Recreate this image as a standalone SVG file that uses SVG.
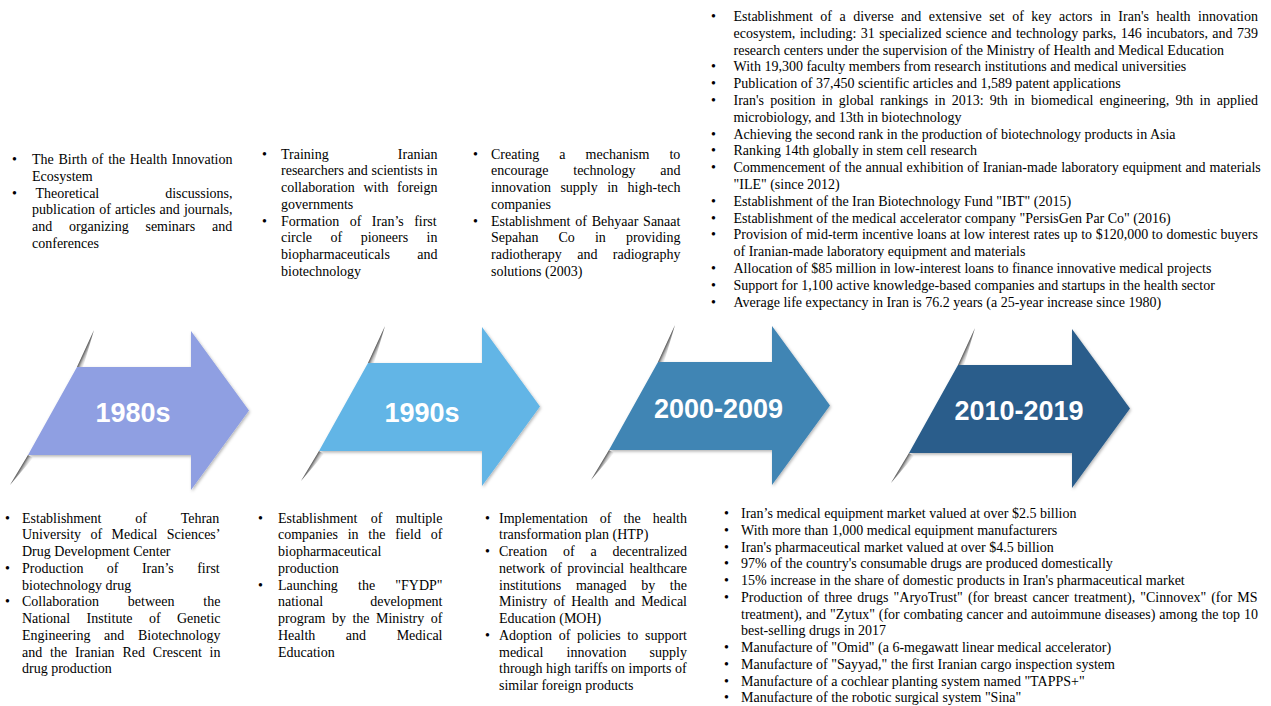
<svg xmlns="http://www.w3.org/2000/svg" width="1271" height="706" viewBox="0 0 1271 706">
<defs>
<style>
.t{font-family:"Liberation Serif","Times New Roman",serif;font-size:14px;fill:#000}
.e{text-anchor:end}
.lbl{font-family:"Liberation Sans",Arial,sans-serif;font-weight:bold;font-size:27px;fill:#fff;text-anchor:middle}
.streak{fill:url(#streakGrad)}
</style>
<linearGradient id="streakGrad" x1="0" y1="0" x2="1" y2="0">
<stop offset="0" stop-color="#333" stop-opacity="0.85"/>
<stop offset="0.5" stop-color="#777" stop-opacity="0.4"/>
<stop offset="1" stop-color="#aaa" stop-opacity="0"/>
</linearGradient>
<filter id="sh" x="-10%" y="-10%" width="130%" height="130%">
<feDropShadow dx="1" dy="1.5" stdDeviation="1.5" flood-color="#000" flood-opacity="0.3"/>
</filter>
<path id="arrowShape" d="M0,0 H114 V-36 L172,43.5 L114,123 V88 H-49 Z"/>
</defs>
<rect width="1271" height="706" fill="#fff"/>

<g id="arrow-1980s" transform="translate(77,367)">
<polygon class="streak" points="0,0 0,40.7 6,40.7" transform="translate(17,-37) rotate(24.7)"/>
<polygon class="streak" points="0,0 6,0 0,35" transform="translate(-49,88) rotate(31)"/>
<use href="#arrowShape" fill="#8f9fe2" filter="url(#sh)"/>
</g>
<g id="arrow-1990s" transform="translate(368,363)">
<polygon class="streak" points="0,0 0,40.7 6,40.7" transform="translate(17,-37) rotate(24.7)"/>
<polygon class="streak" points="0,0 6,0 0,35" transform="translate(-49,88) rotate(31)"/>
<use href="#arrowShape" fill="#62b5e6" filter="url(#sh)"/>
</g>
<g id="arrow-2000-2009" transform="translate(658,362)">
<polygon class="streak" points="0,0 0,40.7 6,40.7" transform="translate(17,-37) rotate(24.7)"/>
<polygon class="streak" points="0,0 6,0 0,35" transform="translate(-49,88) rotate(31)"/>
<use href="#arrowShape" fill="#4185b4" filter="url(#sh)"/>
</g>
<g id="arrow-2010-2019" transform="translate(958,365)">
<polygon class="streak" points="0,0 0,40.7 6,40.7" transform="translate(17,-37) rotate(24.7)"/>
<polygon class="streak" points="0,0 6,0 0,35" transform="translate(-49,88) rotate(31)"/>
<use href="#arrowShape" fill="#2a5d8b" filter="url(#sh)"/>
</g>
<g id="labels">
<text class="lbl" x="133" y="421.5">1980s</text>
<text class="lbl" x="422" y="421.5">1990s</text>
<text class="lbl" x="718.5" y="417.5">2000-2009</text>
<text class="lbl" x="1019" y="419.5">2010-2019</text>
</g>

<g id="top-1980s">
<text class="t" x="12" y="164">•</text>
<text class="t" x="32" y="164" style="word-spacing:1.14px">The Birth of the Health Innovation</text>
<text class="t" x="32" y="180.75">Ecosystem</text>
<text class="t" x="12" y="197.5">•</text>
<text class="t" x="35.5" y="197.5">Theoretical</text>
<text class="t e" x="232.5" y="197.5">discussions,</text>
<text class="t" x="32" y="214.25" style="word-spacing:0.65px">publication of articles and journals,</text>
<text class="t" x="32" y="231" style="word-spacing:13.3px">and organizing seminars and</text>
<text class="t" x="32" y="247.75">conferences</text>
</g>

<g id="top-1990s">
<text class="t" x="262" y="158.5">•</text>
<text class="t" x="281" y="158.5">Training</text>
<text class="t e" x="437.5" y="158.5">Iranian</text>
<text class="t" x="281" y="175.25" style="word-spacing:0.2px">researchers and scientists in</text>
<text class="t" x="281" y="192" style="word-spacing:5.15px">collaboration with foreign</text>
<text class="t" x="281" y="208.75">governments</text>
<text class="t" x="262" y="225.5">•</text>
<text class="t" x="281" y="225.5" style="word-spacing:6.93px">Formation of Iran’s first</text>
<text class="t" x="281" y="242.25" style="word-spacing:14.97px">circle of pioneers in</text>
<text class="t" x="281" y="259">biopharmaceuticals</text>
<text class="t e" x="437.5" y="259">and</text>
<text class="t" x="281" y="275.75">biotechnology</text>
</g>

<g id="top-2000-2009">
<text class="t" x="473" y="158.5">•</text>
<text class="t" x="491" y="158.5" style="word-spacing:16.6px">Creating a mechanism to</text>
<text class="t" x="491" y="175.25" style="word-spacing:21.25px">encourage technology and</text>
<text class="t" x="491" y="192" style="word-spacing:6px">innovation supply in high-tech</text>
<text class="t" x="491" y="208.75">companies</text>
<text class="t" x="473" y="225.5">•</text>
<text class="t" x="491" y="225.5" style="word-spacing:1.33px">Establishment of Behyaar Sanaat</text>
<text class="t" x="491" y="242.25" style="word-spacing:16.6px">Sepahan Co in providing</text>
<text class="t" x="491" y="259" style="word-spacing:11.95px">radiotherapy and radiography</text>
<text class="t" x="491" y="275.75">solutions (2003)</text>
</g>

<g id="top-2010-2019">
<text class="t" x="711" y="21">•</text>
<text class="t" x="733.5" y="21" style="word-spacing:3.99px">Establishment of a diverse and extensive set of key actors in Iran's health innovation</text>
<text class="t" x="733.5" y="37.8" style="word-spacing:0.88px">ecosystem, including: 31 specialized science and technology parks, 146 incubators, and 739</text>
<text class="t" x="733.5" y="54.6">research centers under the supervision of the Ministry of Health and Medical Education</text>
<text class="t" x="711" y="71.4">•</text>
<text class="t" x="733.5" y="71.4">With 19,300 faculty members from research institutions and medical universities</text>
<text class="t" x="711" y="88.2">•</text>
<text class="t" x="733.5" y="88.2">Publication of 37,450 scientific articles and 1,589 patent applications</text>
<text class="t" x="711" y="105">•</text>
<text class="t" x="733.5" y="105" style="word-spacing:2.76px">Iran's position in global rankings in 2013: 9th in biomedical engineering, 9th in applied</text>
<text class="t" x="733.5" y="121.8">microbiology, and 13th in biotechnology</text>
<text class="t" x="711" y="138.6">•</text>
<text class="t" x="733.5" y="138.6">Achieving the second rank in the production of biotechnology products in Asia</text>
<text class="t" x="711" y="155.4">•</text>
<text class="t" x="733.5" y="155.4">Ranking 14th globally in stem cell research</text>
<text class="t" x="711" y="172.2">•</text>
<text class="t" x="733.5" y="172.2" style="word-spacing:0.32px">Commencement of the annual exhibition of Iranian-made laboratory equipment and materials</text>
<text class="t" x="733.5" y="189">"ILE" (since 2012)</text>
<text class="t" x="711" y="205.8">•</text>
<text class="t" x="733.5" y="205.8">Establishment of the Iran Biotechnology Fund "IBT" (2015)</text>
<text class="t" x="711" y="222.6">•</text>
<text class="t" x="733.5" y="222.6">Establishment of the medical accelerator company "PersisGen Par Co" (2016)</text>
<text class="t" x="711" y="239.4">•</text>
<text class="t" x="733.5" y="239.4" style="word-spacing:0.16px">Provision of mid-term incentive loans at low interest rates up to $120,000 to domestic buyers</text>
<text class="t" x="733.5" y="256.2">of Iranian-made laboratory equipment and materials</text>
<text class="t" x="711" y="273">•</text>
<text class="t" x="733.5" y="273">Allocation of $85 million in low-interest loans to finance innovative medical projects</text>
<text class="t" x="711" y="289.8">•</text>
<text class="t" x="733.5" y="289.8">Support for 1,100 active knowledge-based companies and startups in the health sector</text>
<text class="t" x="711" y="306.6">•</text>
<text class="t" x="733.5" y="306.6">Average life expectancy in Iran is 76.2 years (a 25-year increase since 1980)</text>
</g>

<g id="bottom-1980s">
<text class="t" x="5" y="522.5">•</text>
<text class="t" x="22" y="522.5" style="word-spacing:30.45px">Establishment of Tehran</text>
<text class="t" x="22" y="539.25" style="word-spacing:5.9px">University of Medical Sciences’</text>
<text class="t" x="22" y="556">Drug Development Center</text>
<text class="t" x="5" y="572.75">•</text>
<text class="t" x="22" y="572.75" style="word-spacing:19.9px">Production of Iran’s first</text>
<text class="t" x="22" y="589.5">biotechnology drug</text>
<text class="t" x="5" y="606.25">•</text>
<text class="t" x="22" y="606.25" style="word-spacing:25.35px">Collaboration between the</text>
<text class="t" x="22" y="623" style="word-spacing:12.9px">National Institute of Genetic</text>
<text class="t" x="22" y="639.75" style="word-spacing:10.2px">Engineering and Biotechnology</text>
<text class="t" x="22" y="656.5" style="word-spacing:4.32px">and the Iranian Red Crescent in</text>
<text class="t" x="22" y="673.25">drug production</text>
</g>

<g id="bottom-1990s">
<text class="t" x="258" y="522.5">•</text>
<text class="t" x="278" y="522.5" style="word-spacing:9.9px">Establishment of multiple</text>
<text class="t" x="278" y="539.25" style="word-spacing:6.3px">companies in the field of</text>
<text class="t" x="278" y="556">biopharmaceutical</text>
<text class="t" x="278" y="572.75">production</text>
<text class="t" x="258" y="589.5">•</text>
<text class="t" x="278" y="589.5" style="word-spacing:16.65px">Launching the "FYDP"</text>
<text class="t" x="278" y="606.25">national</text>
<text class="t e" x="442.5" y="606.25">development</text>
<text class="t" x="278" y="623" style="word-spacing:3px">program by the Ministry of</text>
<text class="t" x="278" y="639.75" style="word-spacing:27.05px">Health and Medical</text>
<text class="t" x="278" y="656.5">Education</text>
</g>

<g id="bottom-2000-2009">
<text class="t" x="485" y="522.5">•</text>
<text class="t" x="499" y="522.5" style="word-spacing:8.63px">Implementation of the health</text>
<text class="t" x="499" y="539.25">transformation plan (HTP)</text>
<text class="t" x="485" y="556">•</text>
<text class="t" x="499" y="556" style="word-spacing:12.27px">Creation of a decentralized</text>
<text class="t" x="499" y="572.75" style="word-spacing:1.9px">network of provincial healthcare</text>
<text class="t" x="499" y="589.5" style="word-spacing:11.2px">institutions managed by the</text>
<text class="t" x="499" y="606.25" style="word-spacing:2.68px">Ministry of Health and Medical</text>
<text class="t" x="499" y="623">Education (MOH)</text>
<text class="t" x="485" y="639.75">•</text>
<text class="t" x="499" y="639.75" style="word-spacing:3.25px">Adoption of policies to support</text>
<text class="t" x="499" y="656.5" style="word-spacing:19.7px">medical innovation supply</text>
<text class="t" x="499" y="673.25">through high tariffs on imports of</text>
<text class="t" x="499" y="690">similar foreign products</text>
</g>

<g id="bottom-2010-2019">
<text class="t" x="724" y="518">•</text>
<text class="t" x="741" y="518">Iran’s medical equipment market valued at over $2.5 billion</text>
<text class="t" x="724" y="534.75">•</text>
<text class="t" x="741" y="534.75">With more than 1,000 medical equipment manufacturers</text>
<text class="t" x="724" y="551.5">•</text>
<text class="t" x="741" y="551.5">Iran's pharmaceutical market valued at over $4.5 billion</text>
<text class="t" x="724" y="568.25">•</text>
<text class="t" x="741" y="568.25">97% of the country's consumable drugs are produced domestically</text>
<text class="t" x="724" y="585">•</text>
<text class="t" x="741" y="585">15% increase in the share of domestic products in Iran's pharmaceutical market</text>
<text class="t" x="724" y="601.75">•</text>
<text class="t" x="741" y="601.75" style="word-spacing:1.59px">Production of three drugs "AryoTrust" (for breast cancer treatment), "Cinnovex" (for MS</text>
<text class="t" x="741" y="618.5" style="word-spacing:0.37px">treatment), and "Zytux" (for combating cancer and autoimmune diseases) among the top 10</text>
<text class="t" x="741" y="635.25">best-selling drugs in 2017</text>
<text class="t" x="724" y="652">•</text>
<text class="t" x="741" y="652">Manufacture of "Omid" (a 6-megawatt linear medical accelerator)</text>
<text class="t" x="724" y="668.75">•</text>
<text class="t" x="741" y="668.75">Manufacture of "Sayyad," the first Iranian cargo inspection system</text>
<text class="t" x="724" y="685.5">•</text>
<text class="t" x="741" y="685.5">Manufacture of a cochlear planting system named "TAPPS+"</text>
<text class="t" x="724" y="702.25">•</text>
<text class="t" x="741" y="702.25">Manufacture of the robotic surgical system "Sina"</text>
</g>
</svg>
